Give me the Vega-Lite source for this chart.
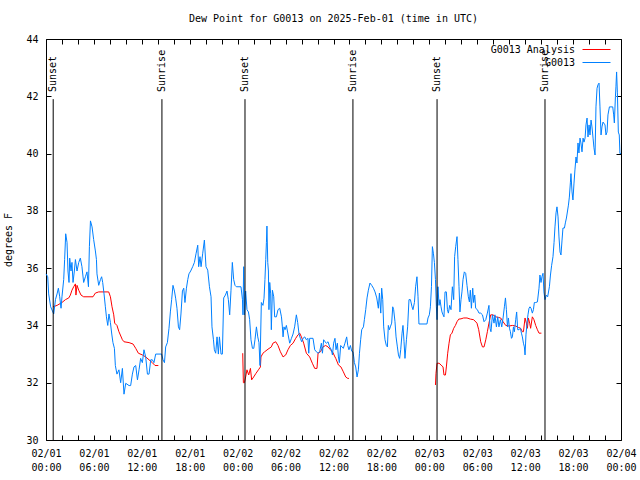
{
  "$schema": "https://vega.github.io/schema/vega-lite/v6.json",
  "width": 575,
  "height": 401,
  "autosize": {"type": "none"},
  "padding": {"left": 46, "top": 39, "right": 19, "bottom": 40},
  "background": "white",
  "title": {"text": "Dew Point for G0013 on 2025-Feb-01 (time in UTC)", "font": "DejaVu Sans Mono", "fontSize": 10, "fontWeight": "normal", "anchor": "middle", "offset": 10, "color": "black"},
  "config": {
    "view": {"stroke": "black", "strokeWidth": 1},
    "axis": {"labelFont": "DejaVu Sans Mono", "labelFontSize": 10, "labelColor": "black", "titleFont": "DejaVu Sans Mono", "titleFontSize": 10, "titleFontWeight": "normal", "titleColor": "black", "grid": false, "domain": false, "tickColor": "black", "tickWidth": 1}
  },
  "datasets": {
    "obs": [
      {"t":"2025-02-01T00:00Z","v":35.8},{"t":"2025-02-01T00:13Z","v":35.7},{"t":"2025-02-01T00:20Z","v":35.1},{"t":"2025-02-01T00:35Z","v":34.65},{"t":"2025-02-01T00:58Z","v":34.4},{"t":"2025-02-01T01:11Z","v":34.9},{"t":"2025-02-01T01:23Z","v":35.1},{"t":"2025-02-01T01:33Z","v":35.3},{"t":"2025-02-01T01:43Z","v":35.0},{"t":"2025-02-01T01:53Z","v":34.6},
      {"t":"2025-02-01T02:00Z","v":35.0},{"t":"2025-02-01T02:13Z","v":35.6},{"t":"2025-02-01T02:20Z","v":36.3},{"t":"2025-02-01T02:28Z","v":37.2},{"t":"2025-02-01T02:38Z","v":36.9},{"t":"2025-02-01T02:45Z","v":35.9},{"t":"2025-02-01T02:53Z","v":35.5},{"t":"2025-02-01T02:58Z","v":36.35},{"t":"2025-02-01T03:08Z","v":35.9},{"t":"2025-02-01T03:15Z","v":36.2},
      {"t":"2025-02-01T03:23Z","v":35.5},{"t":"2025-02-01T03:33Z","v":35.9},{"t":"2025-02-01T03:41Z","v":36.3},{"t":"2025-02-01T03:53Z","v":35.9},{"t":"2025-02-01T04:06Z","v":36.2},{"t":"2025-02-01T04:18Z","v":36.35},{"t":"2025-02-01T04:30Z","v":36.05},{"t":"2025-02-01T04:43Z","v":35.5},{"t":"2025-02-01T04:56Z","v":35.7},{"t":"2025-02-01T05:08Z","v":35.87},
      {"t":"2025-02-01T05:19Z","v":35.35},{"t":"2025-02-01T05:26Z","v":36.75},{"t":"2025-02-01T05:34Z","v":37.65},{"t":"2025-02-01T05:46Z","v":37.44},{"t":"2025-02-01T05:58Z","v":37.0},{"t":"2025-02-01T06:11Z","v":36.6},{"t":"2025-02-01T06:19Z","v":36.3},{"t":"2025-02-01T06:23Z","v":35.8},{"t":"2025-02-01T06:36Z","v":35.4},{"t":"2025-02-01T06:49Z","v":35.6},
      {"t":"2025-02-01T06:58Z","v":35.7},{"t":"2025-02-01T07:06Z","v":35.5},{"t":"2025-02-01T07:16Z","v":35.1},{"t":"2025-02-01T07:26Z","v":34.65},{"t":"2025-02-01T07:34Z","v":34.3},{"t":"2025-02-01T07:44Z","v":34.0},{"t":"2025-02-01T07:53Z","v":34.4},{"t":"2025-02-01T08:04Z","v":34.1},{"t":"2025-02-01T08:14Z","v":33.7},{"t":"2025-02-01T08:23Z","v":33.4},
      {"t":"2025-02-01T08:34Z","v":33.2},{"t":"2025-02-01T08:41Z","v":32.6},{"t":"2025-02-01T08:53Z","v":32.3},{"t":"2025-02-01T09:08Z","v":32.45},{"t":"2025-02-01T09:21Z","v":32.0},{"t":"2025-02-01T09:34Z","v":32.5},{"t":"2025-02-01T09:46Z","v":31.6},{"t":"2025-02-01T09:59Z","v":31.98},{"t":"2025-02-01T10:24Z","v":31.9},{"t":"2025-02-01T10:36Z","v":31.9},
      {"t":"2025-02-01T10:49Z","v":32.3},{"t":"2025-02-01T11:01Z","v":32.55},{"t":"2025-02-01T11:14Z","v":32.6},{"t":"2025-02-01T11:27Z","v":32.1},{"t":"2025-02-01T11:39Z","v":32.45},{"t":"2025-02-01T11:51Z","v":32.85},{"t":"2025-02-01T12:04Z","v":32.7},{"t":"2025-02-01T12:16Z","v":33.15},{"t":"2025-02-01T12:29Z","v":32.9},{"t":"2025-02-01T12:42Z","v":32.3},
      {"t":"2025-02-01T12:54Z","v":32.3},{"t":"2025-02-01T13:07Z","v":32.8},{"t":"2025-02-01T13:19Z","v":32.8},{"t":"2025-02-01T13:31Z","v":32.7},{"t":"2025-02-01T13:44Z","v":33.0},{"t":"2025-02-01T14:09Z","v":33.0},{"t":"2025-02-01T14:29Z","v":33.0},{"t":"2025-02-01T14:39Z","v":32.8},{"t":"2025-02-01T14:50Z","v":32.7},{"t":"2025-02-01T14:59Z","v":33.25},
      {"t":"2025-02-01T15:12Z","v":33.4},{"t":"2025-02-01T15:24Z","v":33.9},{"t":"2025-02-01T15:35Z","v":34.5},{"t":"2025-02-01T15:44Z","v":34.9},{"t":"2025-02-01T15:54Z","v":35.4},{"t":"2025-02-01T16:05Z","v":35.2},{"t":"2025-02-01T16:14Z","v":34.95},{"t":"2025-02-01T16:24Z","v":34.6},{"t":"2025-02-01T16:35Z","v":33.95},{"t":"2025-02-01T16:44Z","v":33.85},
      {"t":"2025-02-01T16:54Z","v":34.4},{"t":"2025-02-01T17:05Z","v":35.2},{"t":"2025-02-01T17:15Z","v":35.3},{"t":"2025-02-01T17:24Z","v":34.8},{"t":"2025-02-01T17:35Z","v":35.3},{"t":"2025-02-01T17:45Z","v":35.6},{"t":"2025-02-01T17:54Z","v":35.8},{"t":"2025-02-01T18:07Z","v":35.9},{"t":"2025-02-01T18:22Z","v":36.05},{"t":"2025-02-01T18:35Z","v":36.2},
      {"t":"2025-02-01T18:47Z","v":36.5},{"t":"2025-02-01T19:00Z","v":36.8},{"t":"2025-02-01T19:07Z","v":36.05},{"t":"2025-02-01T19:17Z","v":36.4},{"t":"2025-02-01T19:25Z","v":36.05},{"t":"2025-02-01T19:37Z","v":36.5},{"t":"2025-02-01T19:50Z","v":36.98},{"t":"2025-02-01T20:02Z","v":36.05},{"t":"2025-02-01T20:15Z","v":35.93},{"t":"2025-02-01T20:28Z","v":35.35},
      {"t":"2025-02-01T20:40Z","v":35.0},{"t":"2025-02-01T20:47Z","v":33.95},{"t":"2025-02-01T20:58Z","v":33.5},{"t":"2025-02-01T21:05Z","v":33.15},{"t":"2025-02-01T21:15Z","v":33.03},{"t":"2025-02-01T21:25Z","v":33.6},{"t":"2025-02-01T21:35Z","v":33.0},{"t":"2025-02-01T21:43Z","v":33.6},{"t":"2025-02-01T21:55Z","v":33.0},{"t":"2025-02-01T22:05Z","v":33.0},
      {"t":"2025-02-01T22:15Z","v":34.96},{"t":"2025-02-01T22:28Z","v":35.06},{"t":"2025-02-01T22:40Z","v":35.2},{"t":"2025-02-01T22:50Z","v":34.9},{"t":"2025-02-01T23:00Z","v":34.37},{"t":"2025-02-01T23:10Z","v":35.23},{"t":"2025-02-01T23:20Z","v":36.2},{"t":"2025-02-01T23:30Z","v":35.6},{"t":"2025-02-01T23:40Z","v":35.4},{"t":"2025-02-01T23:50Z","v":35.35},
      {"t":"2025-02-02T00:25Z","v":35.35},{"t":"2025-02-02T00:36Z","v":34.9},{"t":"2025-02-02T00:40Z","v":34.37},{"t":"2025-02-02T00:45Z","v":36.05},{"t":"2025-02-02T00:51Z","v":34.37},{"t":"2025-02-02T01:00Z","v":35.2},{"t":"2025-02-02T01:10Z","v":34.55},{"t":"2025-02-02T01:21Z","v":34.47},{"t":"2025-02-02T01:30Z","v":34.2},{"t":"2025-02-02T01:40Z","v":33.5},
      {"t":"2025-02-02T01:51Z","v":33.2},{"t":"2025-02-02T02:01Z","v":33.2},{"t":"2025-02-02T02:10Z","v":33.5},{"t":"2025-02-02T02:21Z","v":33.95},{"t":"2025-02-02T02:31Z","v":33.6},{"t":"2025-02-02T02:40Z","v":33.4},{"t":"2025-02-02T02:48Z","v":32.6},{"t":"2025-02-02T02:58Z","v":34.8},{"t":"2025-02-02T03:10Z","v":34.7},{"t":"2025-02-02T03:18Z","v":34.95},
      {"t":"2025-02-02T03:25Z","v":35.6},{"t":"2025-02-02T03:31Z","v":36.3},{"t":"2025-02-02T03:36Z","v":36.9},{"t":"2025-02-02T03:40Z","v":37.47},{"t":"2025-02-02T03:46Z","v":36.2},{"t":"2025-02-02T03:51Z","v":35.9},{"t":"2025-02-02T03:55Z","v":34.55},{"t":"2025-02-02T04:01Z","v":35.5},{"t":"2025-02-02T04:08Z","v":35.1},{"t":"2025-02-02T04:13Z","v":33.85},
      {"t":"2025-02-02T04:21Z","v":35.23},{"t":"2025-02-02T04:31Z","v":35.0},{"t":"2025-02-02T04:38Z","v":34.3},{"t":"2025-02-02T04:51Z","v":34.3},{"t":"2025-02-02T05:03Z","v":34.55},{"t":"2025-02-02T05:16Z","v":34.6},{"t":"2025-02-02T05:29Z","v":34.3},{"t":"2025-02-02T05:36Z","v":33.95},{"t":"2025-02-02T05:41Z","v":33.6},{"t":"2025-02-02T05:48Z","v":33.95},
      {"t":"2025-02-02T05:56Z","v":33.85},{"t":"2025-02-02T06:06Z","v":34.0},{"t":"2025-02-02T06:18Z","v":33.7},{"t":"2025-02-02T06:31Z","v":33.38},{"t":"2025-02-02T06:44Z","v":33.55},{"t":"2025-02-02T06:56Z","v":33.7},{"t":"2025-02-02T07:08Z","v":33.95},{"t":"2025-02-02T07:21Z","v":34.37},{"t":"2025-02-02T07:31Z","v":34.1},{"t":"2025-02-02T07:41Z","v":33.7},
      {"t":"2025-02-02T07:51Z","v":33.55},{"t":"2025-02-02T08:01Z","v":33.43},{"t":"2025-02-02T08:11Z","v":33.55},{"t":"2025-02-02T08:24Z","v":33.6},{"t":"2025-02-02T08:36Z","v":33.5},{"t":"2025-02-02T08:48Z","v":33.55},{"t":"2025-02-02T08:54Z","v":33.03},{"t":"2025-02-02T09:01Z","v":33.55},{"t":"2025-02-02T09:26Z","v":33.55},{"t":"2025-02-02T09:39Z","v":33.15},
      {"t":"2025-02-02T09:51Z","v":33.08},{"t":"2025-02-02T10:04Z","v":33.03},{"t":"2025-02-02T10:16Z","v":33.08},{"t":"2025-02-02T10:29Z","v":33.38},{"t":"2025-02-02T10:37Z","v":33.03},{"t":"2025-02-02T10:46Z","v":33.5},{"t":"2025-02-02T10:56Z","v":33.43},{"t":"2025-02-02T11:07Z","v":33.38},{"t":"2025-02-02T11:19Z","v":33.43},{"t":"2025-02-02T11:31Z","v":33.25},
      {"t":"2025-02-02T11:44Z","v":33.15},{"t":"2025-02-02T11:52Z","v":32.97},{"t":"2025-02-02T12:01Z","v":33.38},{"t":"2025-02-02T12:11Z","v":33.55},{"t":"2025-02-02T12:19Z","v":33.15},{"t":"2025-02-02T12:29Z","v":33.38},{"t":"2025-02-02T12:37Z","v":32.9},{"t":"2025-02-02T12:44Z","v":32.7},{"t":"2025-02-02T12:54Z","v":33.3},{"t":"2025-02-02T13:14Z","v":33.2},
      {"t":"2025-02-02T13:26Z","v":33.38},{"t":"2025-02-02T13:39Z","v":33.6},{"t":"2025-02-02T13:47Z","v":33.3},{"t":"2025-02-02T13:56Z","v":33.15},{"t":"2025-02-02T14:07Z","v":33.3},{"t":"2025-02-02T14:17Z","v":33.1},{"t":"2025-02-02T14:26Z","v":33.08},{"t":"2025-02-02T14:32Z","v":32.9},{"t":"2025-02-02T14:37Z","v":32.7},{"t":"2025-02-02T14:47Z","v":32.55},
      {"t":"2025-02-02T14:57Z","v":32.2},{"t":"2025-02-02T15:07Z","v":32.45},{"t":"2025-02-02T15:15Z","v":33.03},{"t":"2025-02-02T15:24Z","v":33.5},{"t":"2025-02-02T15:32Z","v":33.85},{"t":"2025-02-02T15:45Z","v":33.95},{"t":"2025-02-02T15:52Z","v":34.2},{"t":"2025-02-02T16:02Z","v":34.55},{"t":"2025-02-02T16:12Z","v":34.96},{"t":"2025-02-02T16:22Z","v":35.23},
      {"t":"2025-02-02T16:34Z","v":35.48},{"t":"2025-02-02T16:47Z","v":35.4},{"t":"2025-02-02T17:00Z","v":35.3},{"t":"2025-02-02T17:12Z","v":35.17},{"t":"2025-02-02T17:25Z","v":34.96},{"t":"2025-02-02T17:37Z","v":34.6},{"t":"2025-02-02T17:45Z","v":35.13},{"t":"2025-02-02T17:55Z","v":34.43},{"t":"2025-02-02T18:02Z","v":35.3},{"t":"2025-02-02T18:10Z","v":34.9},
      {"t":"2025-02-02T18:17Z","v":33.95},{"t":"2025-02-02T18:27Z","v":33.5},{"t":"2025-02-02T18:37Z","v":33.3},{"t":"2025-02-02T18:45Z","v":33.25},{"t":"2025-02-02T18:52Z","v":34.0},{"t":"2025-02-02T19:00Z","v":33.85},{"t":"2025-02-02T19:07Z","v":33.95},{"t":"2025-02-02T19:17Z","v":34.08},{"t":"2025-02-02T19:25Z","v":34.65},{"t":"2025-02-02T19:32Z","v":34.55},
      {"t":"2025-02-02T19:42Z","v":34.13},{"t":"2025-02-02T19:50Z","v":33.6},{"t":"2025-02-02T20:00Z","v":33.25},{"t":"2025-02-02T20:08Z","v":32.97},{"t":"2025-02-02T20:17Z","v":32.85},{"t":"2025-02-02T20:25Z","v":33.15},{"t":"2025-02-02T20:35Z","v":33.73},{"t":"2025-02-02T20:42Z","v":34.0},{"t":"2025-02-02T20:50Z","v":33.43},{"t":"2025-02-02T20:57Z","v":32.85},
      {"t":"2025-02-02T21:08Z","v":33.5},{"t":"2025-02-02T21:17Z","v":33.95},{"t":"2025-02-02T21:27Z","v":34.9},{"t":"2025-02-02T21:38Z","v":34.9},{"t":"2025-02-02T21:50Z","v":34.65},{"t":"2025-02-02T21:57Z","v":34.55},{"t":"2025-02-02T22:08Z","v":34.8},{"t":"2025-02-02T22:17Z","v":35.35},{"t":"2025-02-02T22:27Z","v":35.7},{"t":"2025-02-02T22:35Z","v":35.0},
      {"t":"2025-02-02T22:42Z","v":34.05},{"t":"2025-02-02T23:42Z","v":34.05},{"t":"2025-02-02T23:50Z","v":34.26},{"t":"2025-02-03T00:00Z","v":34.37},{"t":"2025-02-03T00:08Z","v":34.65},{"t":"2025-02-03T00:16Z","v":35.35},{"t":"2025-02-03T00:23Z","v":36.75},{"t":"2025-02-03T00:31Z","v":36.5},{"t":"2025-02-03T00:38Z","v":36.2},{"t":"2025-02-03T00:46Z","v":35.6},
      {"t":"2025-02-03T00:53Z","v":34.65},{"t":"2025-02-03T00:58Z","v":34.2},{"t":"2025-02-03T01:05Z","v":35.35},{"t":"2025-02-03T01:13Z","v":34.7},{"t":"2025-02-03T01:20Z","v":34.9},{"t":"2025-02-03T01:28Z","v":34.65},{"t":"2025-02-03T01:35Z","v":34.47},{"t":"2025-02-03T01:43Z","v":34.37},{"t":"2025-02-03T01:50Z","v":34.3},{"t":"2025-02-03T01:58Z","v":35.17},
      {"t":"2025-02-03T02:08Z","v":35.17},{"t":"2025-02-03T02:16Z","v":34.55},{"t":"2025-02-03T02:23Z","v":34.43},{"t":"2025-02-03T02:33Z","v":34.7},{"t":"2025-02-03T02:43Z","v":34.55},{"t":"2025-02-03T02:53Z","v":35.35},{"t":"2025-02-03T03:03Z","v":34.9},{"t":"2025-02-03T03:10Z","v":36.4},{"t":"2025-02-03T03:18Z","v":36.75},{"t":"2025-02-03T03:28Z","v":37.1},
      {"t":"2025-02-03T03:35Z","v":36.3},{"t":"2025-02-03T03:43Z","v":35.35},{"t":"2025-02-03T03:50Z","v":34.47},{"t":"2025-02-03T03:58Z","v":34.9},{"t":"2025-02-03T04:05Z","v":35.17},{"t":"2025-02-03T04:13Z","v":35.6},{"t":"2025-02-03T04:23Z","v":35.87},{"t":"2025-02-03T04:33Z","v":35.82},{"t":"2025-02-03T04:43Z","v":35.4},{"t":"2025-02-03T04:53Z","v":35.0},
      {"t":"2025-02-03T05:01Z","v":34.82},{"t":"2025-02-03T05:08Z","v":35.23},{"t":"2025-02-03T05:16Z","v":34.6},{"t":"2025-02-03T05:26Z","v":35.3},{"t":"2025-02-03T05:33Z","v":34.8},{"t":"2025-02-03T05:41Z","v":35.06},{"t":"2025-02-03T05:48Z","v":34.6},{"t":"2025-02-03T06:01Z","v":34.55},{"t":"2025-02-03T06:13Z","v":34.43},{"t":"2025-02-03T06:26Z","v":34.43},
      {"t":"2025-02-03T06:39Z","v":34.37},{"t":"2025-02-03T06:51Z","v":34.13},{"t":"2025-02-03T07:04Z","v":34.2},{"t":"2025-02-03T07:16Z","v":34.43},{"t":"2025-02-03T07:28Z","v":34.7},{"t":"2025-02-03T07:36Z","v":33.9},{"t":"2025-02-03T07:43Z","v":33.78},{"t":"2025-02-03T07:54Z","v":34.37},{"t":"2025-02-03T08:06Z","v":34.08},{"t":"2025-02-03T08:13Z","v":34.37},
      {"t":"2025-02-03T08:24Z","v":33.95},{"t":"2025-02-03T08:34Z","v":34.3},{"t":"2025-02-03T08:43Z","v":33.95},{"t":"2025-02-03T08:54Z","v":34.2},{"t":"2025-02-03T09:04Z","v":33.95},{"t":"2025-02-03T09:14Z","v":34.26},{"t":"2025-02-03T09:24Z","v":34.65},{"t":"2025-02-03T09:32Z","v":34.96},{"t":"2025-02-03T09:39Z","v":34.55},{"t":"2025-02-03T09:47Z","v":33.95},
      {"t":"2025-02-03T09:54Z","v":34.26},{"t":"2025-02-03T10:02Z","v":33.9},{"t":"2025-02-03T10:09Z","v":33.78},{"t":"2025-02-03T10:17Z","v":33.55},{"t":"2025-02-03T10:24Z","v":33.6},{"t":"2025-02-03T10:32Z","v":33.95},{"t":"2025-02-03T10:39Z","v":33.78},{"t":"2025-02-03T10:49Z","v":34.2},{"t":"2025-02-03T10:56Z","v":34.47},{"t":"2025-02-03T11:04Z","v":33.85},
      {"t":"2025-02-03T11:14Z","v":33.85},{"t":"2025-02-03T11:24Z","v":33.9},{"t":"2025-02-03T11:32Z","v":33.73},{"t":"2025-02-03T11:39Z","v":33.6},{"t":"2025-02-03T11:47Z","v":33.38},{"t":"2025-02-03T11:54Z","v":33.25},{"t":"2025-02-03T11:59Z","v":32.97},{"t":"2025-02-03T12:06Z","v":33.67},{"t":"2025-02-03T12:14Z","v":34.08},{"t":"2025-02-03T12:21Z","v":34.37},
      {"t":"2025-02-03T12:29Z","v":34.6},{"t":"2025-02-03T12:36Z","v":34.65},{"t":"2025-02-03T12:44Z","v":34.6},{"t":"2025-02-03T12:54Z","v":34.43},{"t":"2025-02-03T13:02Z","v":34.55},{"t":"2025-02-03T13:09Z","v":34.8},{"t":"2025-02-03T13:19Z","v":34.8},{"t":"2025-02-03T13:32Z","v":34.82},{"t":"2025-02-03T13:44Z","v":35.3},{"t":"2025-02-03T13:51Z","v":35.76},
      {"t":"2025-02-03T13:59Z","v":35.5},{"t":"2025-02-03T14:06Z","v":35.7},{"t":"2025-02-03T14:14Z","v":35.82},{"t":"2025-02-03T14:21Z","v":35.17},{"t":"2025-02-03T14:29Z","v":34.9},{"t":"2025-02-03T14:39Z","v":35.06},{"t":"2025-02-03T14:49Z","v":35.0},{"t":"2025-02-03T15:02Z","v":35.35},{"t":"2025-02-03T15:10Z","v":35.76},{"t":"2025-02-03T15:19Z","v":36.1},
      {"t":"2025-02-03T15:29Z","v":36.4},{"t":"2025-02-03T15:37Z","v":36.9},{"t":"2025-02-03T15:44Z","v":37.44},{"t":"2025-02-03T15:52Z","v":37.93},{"t":"2025-02-03T15:59Z","v":38.14},{"t":"2025-02-03T16:07Z","v":37.79},{"t":"2025-02-03T16:14Z","v":37.09},{"t":"2025-02-03T16:22Z","v":36.56},{"t":"2025-02-03T16:29Z","v":36.46},{"t":"2025-02-03T16:37Z","v":36.98},
      {"t":"2025-02-03T16:44Z","v":37.4},{"t":"2025-02-03T16:55Z","v":37.4},{"t":"2025-02-03T17:02Z","v":37.58},{"t":"2025-02-03T17:10Z","v":37.75},{"t":"2025-02-03T17:17Z","v":37.96},{"t":"2025-02-03T17:25Z","v":38.2},{"t":"2025-02-03T17:32Z","v":38.48},{"t":"2025-02-03T17:40Z","v":39.0},{"t":"2025-02-03T17:44Z","v":39.3},{"t":"2025-02-03T17:52Z","v":38.66},
      {"t":"2025-02-03T17:59Z","v":38.38},{"t":"2025-02-03T18:07Z","v":38.97},{"t":"2025-02-03T18:14Z","v":39.43},{"t":"2025-02-03T18:22Z","v":39.88},{"t":"2025-02-03T18:29Z","v":39.67},{"t":"2025-02-03T18:37Z","v":40.37},{"t":"2025-02-03T18:44Z","v":40.02},{"t":"2025-02-03T18:52Z","v":40.54},{"t":"2025-02-03T18:59Z","v":40.37},{"t":"2025-02-03T19:07Z","v":40.06},
      {"t":"2025-02-03T19:15Z","v":40.54},{"t":"2025-02-03T19:22Z","v":40.4},{"t":"2025-02-03T19:30Z","v":40.54},{"t":"2025-02-03T19:37Z","v":41.0},{"t":"2025-02-03T19:45Z","v":41.24},{"t":"2025-02-03T19:52Z","v":40.58},{"t":"2025-02-03T20:00Z","v":41.0},{"t":"2025-02-03T20:07Z","v":40.65},{"t":"2025-02-03T20:15Z","v":41.17},{"t":"2025-02-03T20:22Z","v":40.93},
      {"t":"2025-02-03T20:30Z","v":40.54},{"t":"2025-02-03T20:37Z","v":40.2},{"t":"2025-02-03T20:45Z","v":39.95},{"t":"2025-02-03T20:52Z","v":41.63},{"t":"2025-02-03T21:00Z","v":42.28},{"t":"2025-02-03T21:07Z","v":42.4},{"t":"2025-02-03T21:15Z","v":42.46},{"t":"2025-02-03T21:22Z","v":41.63},{"t":"2025-02-03T21:30Z","v":40.65},{"t":"2025-02-03T21:37Z","v":40.93},
      {"t":"2025-02-03T21:45Z","v":41.1},{"t":"2025-02-03T22:00Z","v":41.0},{"t":"2025-02-03T22:07Z","v":40.65},{"t":"2025-02-03T22:15Z","v":40.75},{"t":"2025-02-03T22:22Z","v":41.35},{"t":"2025-02-03T22:33Z","v":41.63},{"t":"2025-02-03T22:58Z","v":41.63},{"t":"2025-02-03T23:05Z","v":41.35},{"t":"2025-02-03T23:10Z","v":41.07},{"t":"2025-02-03T23:18Z","v":41.98},
      {"t":"2025-02-03T23:22Z","v":42.33},{"t":"2025-02-03T23:27Z","v":42.85},{"t":"2025-02-03T23:33Z","v":42.12},{"t":"2025-02-03T23:40Z","v":40.75},{"t":"2025-02-03T23:47Z","v":40.65},{"t":"2025-02-03T23:52Z","v":40.0},{"t":"2025-02-04T00:00Z","v":40.0}
    ],
    "ana": [
      {"t":"2025-02-01T00:53Z","v":34.65,"r":1},{"t":"2025-02-01T01:23Z","v":34.7,"r":1},{"t":"2025-02-01T02:00Z","v":34.8,"r":1},{"t":"2025-02-01T02:26Z","v":34.9,"r":1},{"t":"2025-02-01T02:51Z","v":34.96,"r":1},{"t":"2025-02-01T03:03Z","v":35.06,"r":1},{"t":"2025-02-01T03:15Z","v":35.23,"r":1},{"t":"2025-02-01T03:28Z","v":35.35,"r":1},{"t":"2025-02-01T03:41Z","v":35.45,"r":1},{"t":"2025-02-01T03:45Z","v":35.06,"r":1},
      {"t":"2025-02-01T03:53Z","v":35.4,"r":1},{"t":"2025-02-01T04:06Z","v":35.23,"r":1},{"t":"2025-02-01T04:23Z","v":35.06,"r":1},{"t":"2025-02-01T04:43Z","v":35.0,"r":1},{"t":"2025-02-01T05:53Z","v":35.0,"r":1},{"t":"2025-02-01T06:11Z","v":35.13,"r":1},{"t":"2025-02-01T06:36Z","v":35.17,"r":1},{"t":"2025-02-01T07:51Z","v":35.17,"r":1},{"t":"2025-02-01T08:04Z","v":35.0,"r":1},{"t":"2025-02-01T08:16Z","v":34.65,"r":1},
      {"t":"2025-02-01T08:29Z","v":34.37,"r":1},{"t":"2025-02-01T08:36Z","v":34.08,"r":1},{"t":"2025-02-01T08:53Z","v":34.0,"r":1},{"t":"2025-02-01T09:08Z","v":33.78,"r":1},{"t":"2025-02-01T09:34Z","v":33.5,"r":1},{"t":"2025-02-01T09:46Z","v":33.43,"r":1},{"t":"2025-02-01T10:24Z","v":33.4,"r":1},{"t":"2025-02-01T10:54Z","v":33.35,"r":1},{"t":"2025-02-01T11:14Z","v":33.2,"r":1},{"t":"2025-02-01T11:34Z","v":33.03,"r":1},
      {"t":"2025-02-01T12:04Z","v":32.97,"r":1},{"t":"2025-02-01T12:29Z","v":32.9,"r":1},{"t":"2025-02-01T12:54Z","v":32.8,"r":1},{"t":"2025-02-01T13:19Z","v":32.7,"r":1},{"t":"2025-02-01T13:39Z","v":32.6,"r":1},{"t":"2025-02-01T14:04Z","v":32.6,"r":1},
      {"t":"2025-02-02T00:38Z","v":33.03,"r":2},{"t":"2025-02-02T00:43Z","v":32.0,"r":2},{"t":"2025-02-02T00:51Z","v":32.0,"r":2},{"t":"2025-02-02T01:00Z","v":32.2,"r":2},{"t":"2025-02-02T01:10Z","v":32.45,"r":2},{"t":"2025-02-02T01:23Z","v":32.27,"r":2},{"t":"2025-02-02T01:36Z","v":32.5,"r":2},{"t":"2025-02-02T01:45Z","v":32.1,"r":2},{"t":"2025-02-02T02:00Z","v":32.2,"r":2},{"t":"2025-02-02T02:18Z","v":32.33,"r":2},
      {"t":"2025-02-02T02:36Z","v":32.45,"r":2},{"t":"2025-02-02T02:51Z","v":32.55,"r":2},{"t":"2025-02-02T02:55Z","v":32.9,"r":2},{"t":"2025-02-02T03:10Z","v":33.03,"r":2},{"t":"2025-02-02T03:23Z","v":33.08,"r":2},{"t":"2025-02-02T03:48Z","v":33.17,"r":2},{"t":"2025-02-02T04:13Z","v":33.25,"r":2},{"t":"2025-02-02T04:25Z","v":33.38,"r":2},{"t":"2025-02-02T04:46Z","v":33.43,"r":2},{"t":"2025-02-02T05:03Z","v":33.3,"r":2},
      {"t":"2025-02-02T05:21Z","v":33.08,"r":2},{"t":"2025-02-02T05:41Z","v":32.9,"r":2},{"t":"2025-02-02T06:01Z","v":32.97,"r":2},{"t":"2025-02-02T06:18Z","v":33.15,"r":2},{"t":"2025-02-02T06:36Z","v":33.3,"r":2},{"t":"2025-02-02T06:56Z","v":33.38,"r":2},{"t":"2025-02-02T07:16Z","v":33.55,"r":2},{"t":"2025-02-02T07:33Z","v":33.67,"r":2},{"t":"2025-02-02T07:46Z","v":33.73,"r":2},{"t":"2025-02-02T07:59Z","v":33.6,"r":2},
      {"t":"2025-02-02T08:16Z","v":33.38,"r":2},{"t":"2025-02-02T08:36Z","v":33.03,"r":2},{"t":"2025-02-02T09:01Z","v":32.9,"r":2},{"t":"2025-02-02T09:21Z","v":32.68,"r":2},{"t":"2025-02-02T09:39Z","v":32.5,"r":2},{"t":"2025-02-02T09:56Z","v":32.5,"r":2},{"t":"2025-02-02T10:04Z","v":33.03,"r":2},{"t":"2025-02-02T10:22Z","v":33.08,"r":2},{"t":"2025-02-02T10:41Z","v":33.25,"r":2},{"t":"2025-02-02T11:01Z","v":33.3,"r":2},
      {"t":"2025-02-02T11:19Z","v":33.25,"r":2},{"t":"2025-02-02T11:37Z","v":33.15,"r":2},{"t":"2025-02-02T11:56Z","v":33.05,"r":2},{"t":"2025-02-02T12:11Z","v":32.9,"r":2},{"t":"2025-02-02T12:17Z","v":32.85,"r":2},{"t":"2025-02-02T12:37Z","v":32.62,"r":2},{"t":"2025-02-02T12:56Z","v":32.55,"r":2},{"t":"2025-02-02T13:14Z","v":32.38,"r":2},{"t":"2025-02-02T13:32Z","v":32.2,"r":2},{"t":"2025-02-02T13:47Z","v":32.15,"r":2},
      {"t":"2025-02-02T13:56Z","v":32.15,"r":2},
      {"t":"2025-02-03T00:46Z","v":31.92,"r":3},{"t":"2025-02-03T00:50Z","v":32.33,"r":3},{"t":"2025-02-03T00:58Z","v":32.68,"r":3},{"t":"2025-02-03T01:13Z","v":32.68,"r":3},{"t":"2025-02-03T01:28Z","v":32.62,"r":3},{"t":"2025-02-03T01:43Z","v":32.55,"r":3},{"t":"2025-02-03T01:50Z","v":32.27,"r":3},{"t":"2025-02-03T02:01Z","v":32.27,"r":3},{"t":"2025-02-03T02:08Z","v":32.55,"r":3},{"t":"2025-02-03T02:18Z","v":33.03,"r":3},
      {"t":"2025-02-03T02:28Z","v":33.38,"r":3},{"t":"2025-02-03T02:38Z","v":33.67,"r":3},{"t":"2025-02-03T02:50Z","v":33.73,"r":3},{"t":"2025-02-03T03:03Z","v":33.9,"r":3},{"t":"2025-02-03T03:16Z","v":34.0,"r":3},{"t":"2025-02-03T03:28Z","v":34.13,"r":3},{"t":"2025-02-03T03:41Z","v":34.22,"r":3},{"t":"2025-02-03T03:58Z","v":34.23,"r":3},{"t":"2025-02-03T04:18Z","v":34.26,"r":3},{"t":"2025-02-03T04:43Z","v":34.26,"r":3},
      {"t":"2025-02-03T05:09Z","v":34.22,"r":3},{"t":"2025-02-03T05:33Z","v":34.2,"r":3},{"t":"2025-02-03T05:58Z","v":34.08,"r":3},{"t":"2025-02-03T06:11Z","v":33.85,"r":3},{"t":"2025-02-03T06:26Z","v":33.43,"r":3},{"t":"2025-02-03T06:39Z","v":33.25,"r":3},{"t":"2025-02-03T06:51Z","v":33.25,"r":3},{"t":"2025-02-03T07:04Z","v":33.5,"r":3},{"t":"2025-02-03T07:16Z","v":33.78,"r":3},{"t":"2025-02-03T07:28Z","v":34.08,"r":3},
      {"t":"2025-02-03T07:41Z","v":34.37,"r":3},{"t":"2025-02-03T07:58Z","v":34.37,"r":3},{"t":"2025-02-03T08:19Z","v":34.3,"r":3},{"t":"2025-02-03T08:39Z","v":34.28,"r":3},{"t":"2025-02-03T08:56Z","v":34.26,"r":3},{"t":"2025-02-03T09:14Z","v":34.13,"r":3},{"t":"2025-02-03T09:34Z","v":34.0,"r":3},{"t":"2025-02-03T09:59Z","v":33.98,"r":3},{"t":"2025-02-03T10:24Z","v":34.0,"r":3},{"t":"2025-02-03T10:49Z","v":33.98,"r":3},
      {"t":"2025-02-03T11:09Z","v":33.93,"r":3},{"t":"2025-02-03T11:26Z","v":33.9,"r":3},{"t":"2025-02-03T11:39Z","v":33.78,"r":3},{"t":"2025-02-03T11:47Z","v":33.78,"r":3},{"t":"2025-02-03T11:59Z","v":34.26,"r":3},{"t":"2025-02-03T12:09Z","v":34.08,"r":3},{"t":"2025-02-03T12:17Z","v":33.9,"r":3},{"t":"2025-02-03T12:24Z","v":34.26,"r":3},{"t":"2025-02-03T12:34Z","v":34.08,"r":3},{"t":"2025-02-03T12:41Z","v":33.9,"r":3},
      {"t":"2025-02-03T12:54Z","v":34.3,"r":3},{"t":"2025-02-03T13:06Z","v":34.2,"r":3},{"t":"2025-02-03T13:19Z","v":34.0,"r":3},{"t":"2025-02-03T13:32Z","v":33.85,"r":3},{"t":"2025-02-03T13:44Z","v":33.73,"r":3},{"t":"2025-02-03T14:02Z","v":33.73,"r":3}
    ],
    "sun": [
      {"t":"2025-02-01T00:54Z","event":"Sunset"},{"t":"2025-02-01T14:31Z","event":"Sunrise"},
      {"t":"2025-02-02T00:55Z","event":"Sunset"},{"t":"2025-02-02T14:26Z","event":"Sunrise"},
      {"t":"2025-02-03T00:58Z","event":"Sunset"},{"t":"2025-02-03T14:29Z","event":"Sunrise"}
    ]
  },
  "resolve": {"axis": {"x": "independent", "y": "independent"}},
  "layer": [
    {
      "data": {"name": "ana"},
      "mark": {"type": "line", "strokeWidth": 1},
      "encoding": {
        "x": {"field": "t", "type": "temporal", "scale": {"type": "utc", "nice": false},
              "axis": {"orient": "bottom", "tickSize": -5, "tickCount": 37, "labelPadding": 13, "labelLineHeight": 14, "labelOverlap": false, "labelFlush": false, "title": null,
                       "values": [1738368000000, 1738375200000, 1738382400000, 1738389600000, 1738396800000, 1738404000000, 1738411200000, 1738418400000, 1738425600000, 1738432800000, 1738440000000, 1738447200000, 1738454400000, 1738461600000, 1738468800000, 1738476000000, 1738483200000, 1738490400000, 1738497600000, 1738504800000, 1738512000000, 1738519200000, 1738526400000, 1738533600000, 1738540800000, 1738548000000, 1738555200000, 1738562400000, 1738569600000, 1738576800000, 1738584000000, 1738591200000, 1738598400000, 1738605600000, 1738612800000, 1738620000000, 1738627200000],
                       "labelExpr": "utchours(datum.value) % 6 == 0 ? [utcFormat(datum.value, '%m/%d'), utcFormat(datum.value, '%H:%M')] : ''"}},
        "y": {"field": "v", "type": "quantitative", "scale": {"domain": [30, 44], "nice": false, "zero": false},
              "axis": {"orient": "left", "values": [30, 32, 34, 36, 38, 40, 42, 44], "tickSize": -5, "labelPadding": 13, "title": "degrees F", "titlePadding": 12}},
        "detail": {"field": "r", "type": "nominal"},
        "color": {"datum": "G0013 Analysis", "type": "nominal",
                  "scale": {"domain": ["G0013 Analysis", "G0013"], "range": ["#ff0000", "#0080ff"]},
                  "legend": {"orient": "none", "legendX": 543, "legendY": 3, "title": null, "symbolType": "M-2,0H2", "symbolSize": 196, "symbolStrokeWidth": 1, "labelAlign": "right", "labelOffset": -29, "labelFont": "DejaVu Sans Mono", "labelFontSize": 10, "labelColor": "black", "rowPadding": -1, "padding": 0}}
      }
    },
    {
      "data": {"name": "obs"},
      "mark": {"type": "line", "strokeWidth": 1},
      "encoding": {
        "x": {"field": "t", "type": "temporal",
              "axis": {"orient": "top", "tickSize": -5, "tickCount": 37, "labels": false, "title": null,
                       "values": [1738368000000, 1738375200000, 1738382400000, 1738389600000, 1738396800000, 1738404000000, 1738411200000, 1738418400000, 1738425600000, 1738432800000, 1738440000000, 1738447200000, 1738454400000, 1738461600000, 1738468800000, 1738476000000, 1738483200000, 1738490400000, 1738497600000, 1738504800000, 1738512000000, 1738519200000, 1738526400000, 1738533600000, 1738540800000, 1738548000000, 1738555200000, 1738562400000, 1738569600000, 1738576800000, 1738584000000, 1738591200000, 1738598400000, 1738605600000, 1738612800000, 1738620000000, 1738627200000]}},
        "y": {"field": "v", "type": "quantitative",
              "axis": {"orient": "right", "values": [30, 32, 34, 36, 38, 40, 42, 44], "tickSize": -5, "labels": false, "title": null}},
        "color": {"datum": "G0013", "type": "nominal"}
      }
    },
    {
      "data": {"name": "sun"},
      "mark": {"type": "rule", "color": "black", "strokeWidth": 1},
      "encoding": {
        "x": {"field": "t", "type": "temporal", "axis": null},
        "y": {"datum": 30, "type": "quantitative", "axis": null},
        "y2": {"datum": 41.9}
      }
    },
    {
      "data": {"name": "sun"},
      "mark": {"type": "text", "angle": 270, "align": "left", "baseline": "middle", "font": "DejaVu Sans Mono", "fontSize": 10, "color": "black"},
      "encoding": {
        "x": {"field": "t", "type": "temporal", "axis": null},
        "y": {"datum": 42.15, "type": "quantitative", "axis": null},
        "text": {"field": "event"}
      }
    }
  ]
}
